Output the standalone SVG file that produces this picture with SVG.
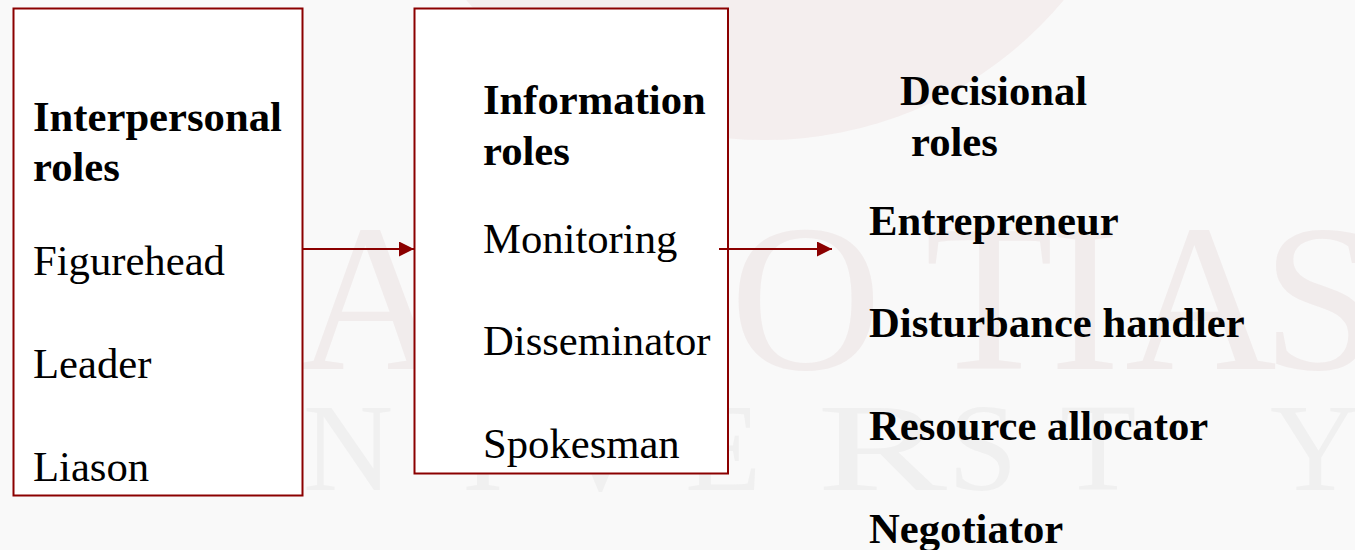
<svg xmlns="http://www.w3.org/2000/svg" width="1355" height="550" viewBox="0 0 1355 550">
  <defs>
    <style>
      .bg { fill: #f9f9f9; }
      .wm { font-family: "Liberation Serif", "Times New Roman", serif; }
      .wm1 { fill: #f1ecec; }
      .wm2 { fill: #f0f0f0; }
      .box { fill: #ffffff; stroke: #8b0000; stroke-width: 2; }
      .conn { stroke: #8b0000; stroke-width: 2; fill: none; }
      .t { font-family: "Liberation Serif", "Times New Roman", serif; font-size: 42.67px; fill: #000000; }
      .b { font-weight: bold; }
    </style>
    <marker id="arrow" markerUnits="userSpaceOnUse" markerWidth="15" markerHeight="15" refX="15" refY="7.5" orient="auto">
      <path d="M0,0 L15,7.5 L0,15 z" fill="#8b0000"/>
    </marker>
  </defs>

  <rect class="bg" x="0" y="0" width="1355" height="550"/>

  <g id="watermark">
    <circle cx="765" cy="-249" r="389" fill="#f4eeee"/>
    <text class="wm wm1" font-size="210" x="296" y="369">A</text>
    <text class="wm wm1" font-size="210" x="730" y="369">O</text>
    <text class="wm wm1" font-size="210" x="925" y="369">T</text>
    <text class="wm wm1" font-size="210" x="1050" y="369">I</text>
    <text class="wm wm1" font-size="210" x="1125" y="369">A</text>
    <text class="wm wm1" font-size="210" x="1262" y="369">S</text>
    <text class="wm wm2" font-size="125" x="303" y="490">N</text>
    <text class="wm wm2" font-size="125" x="462" y="490">I</text>
    <text class="wm wm2" font-size="125" x="555" y="490">V</text>
    <text class="wm wm2" font-size="125" x="685" y="490">E</text>
    <text class="wm wm2" font-size="125" x="817" y="490" textLength="130" lengthAdjust="spacingAndGlyphs">R</text>
    <text class="wm wm2" font-size="125" x="948" y="490">S</text>
    <text class="wm wm2" font-size="125" x="1060" y="490">T</text>
    <text class="wm wm2" font-size="125" x="1270" y="490">Y</text>
  </g>

  <g id="interpersonal">
    <rect class="box" x="13.5" y="8.5" width="289" height="487"/>
    <text class="t b" x="33" y="131">Interpersonal</text>
    <text class="t b" x="33" y="181">roles</text>
    <text class="t" x="33" y="275">Figurehead</text>
    <text class="t" x="33" y="378">Leader</text>
    <text class="t" x="33" y="481">Liason</text>
  </g>

  <g id="information">
    <rect class="box" x="414.5" y="8.5" width="313.5" height="465"/>
    <text class="t b" x="483" y="114">Information</text>
    <text class="t b" x="483" y="165">roles</text>
    <text class="t" x="483" y="253">Monitoring</text>
    <text class="t" x="483" y="355">Disseminator</text>
    <text class="t" x="483" y="458">Spokesman</text>
  </g>

  <g id="decisional">
    <text class="t b" x="900" y="105">Decisional</text>
    <text class="t b" x="911" y="156">roles</text>
    <text class="t b" x="869" y="235">Entrepreneur</text>
    <text class="t b" x="869" y="337">Disturbance handler</text>
    <text class="t b" x="869" y="440">Resource allocator</text>
    <text class="t b" x="869" y="543">Negotiator</text>
  </g>

  <g id="connectors">
    <line class="conn" x1="302" y1="249" x2="414" y2="249" marker-end="url(#arrow)"/>
    <line class="conn" x1="719" y1="249" x2="832" y2="249" marker-end="url(#arrow)"/>
  </g>
</svg>
